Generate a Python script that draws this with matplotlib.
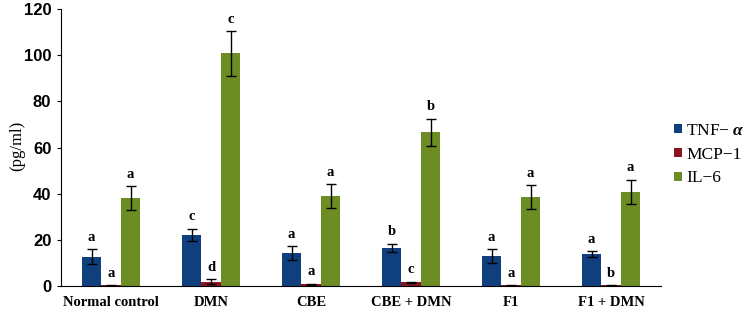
import matplotlib
matplotlib.use("Agg")
import matplotlib.pyplot as plt
import numpy as np

categories = ["Normal control", "DMN", "CBE", "CBE + DMN", "F1", "F1 + DMN"]
series_names = ["TNF\u2212 $\\boldsymbol{\\alpha}$", "MCP\u22121", "IL\u22126"]
tnf = [12.8, 22.2, 14.3, 16.6, 13.2, 13.8]
tnf_err = [3.2, 2.7, 3.1, 1.8, 3.0, 1.3]
mcp = [0.4, 1.9, 0.9, 1.7, 0.4, 0.4]
mcp_err = [0.1, 1.1, 0.2, 0.3, 0.1, 0.1]
il6 = [38.2, 100.8, 39.1, 66.6, 38.6, 40.9]
il6_err = [5.2, 9.7, 5.2, 5.9, 5.2, 5.2]
tnf_sig = ["a", "c", "a", "b", "a", "a"]
mcp_sig = ["a", "d", "a", "c", "a", "b"]
il6_sig = ["a", "c", "a", "b", "a", "a"]
yticks = [0, 20, 40, 60, 80, 100, 120]

colors = ["#0f3f7c", "#8c1420", "#6c8c24"]

plt.rcParams["mathtext.fontset"] = "custom"
plt.rcParams["mathtext.bfit"] = "Liberation Serif:bold:italic"

fig = plt.figure(figsize=(7.5, 3.1), dpi=100)
ax = fig.add_axes([61/750, 1-286.3/310, 600/750, (286.3-9)/310])

x = np.arange(len(categories))
w = 0.195
data = [(tnf, tnf_err, tnf_sig), (mcp, mcp_err, mcp_sig), (il6, il6_err, il6_sig)]
for i, (vals, errs, sigs) in enumerate(data):
    pos = x + (i - 1) * w
    ax.bar(pos, vals, width=w, color=colors[i], label=series_names[i],
           yerr=errs, error_kw=dict(ecolor="black", elinewidth=1, capsize=3.5, capthick=1))
    for p, v, e, s in zip(pos, vals, errs, sigs):
        top = v + e
        ax.text(p, top + 2.3, s, ha="center", va="bottom", fontsize=10.5,
                fontweight="bold", family="Liberation Serif")

ax.set_xlim(-0.5, 5.5)
ax.set_ylim(0, 120)
ax.set_yticks(yticks)
ax.set_yticklabels([str(t) for t in yticks], fontsize=12, fontweight="bold",
                   family="Liberation Sans")
ax.set_xticks(x)
ax.set_xticklabels(categories, fontsize=10.5, fontweight="bold", family="Liberation Serif")
ax.tick_params(axis="x", length=0, pad=7)
ax.tick_params(axis="y", length=3, width=0.8, pad=4)
for s in ["top", "right"]:
    ax.spines[s].set_visible(False)
ax.spines["left"].set_linewidth(0.8)
ax.spines["bottom"].set_linewidth(0.8)
fig.text(17/750, 1 - 146/310, "(pg/ml)", rotation=90, ha="center", va="center",
         fontsize=12, family="Liberation Serif")

leg = ax.legend(loc="center left", bbox_to_anchor=(606/600, 0.475), frameon=False,
                prop=dict(family="Liberation Serif", size=12.5),
                handlelength=0.45, handleheight=0.45, handletextpad=0.25, labelspacing=0.45,
                borderaxespad=0)
fig.savefig("out.png", dpi=100)
